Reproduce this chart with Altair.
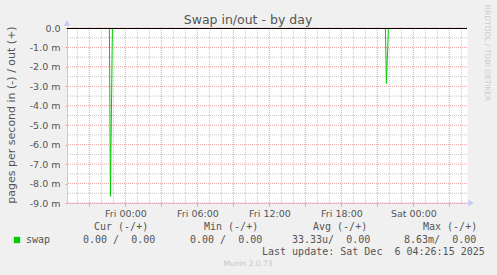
import altair as alt
import pandas as pd
from datetime import datetime, timedelta

# ---------------- data ----------------
times = ["2025-12-04T19:10:00", "2025-12-04T22:40:00", "2025-12-04T22:45:00",
         "2025-12-04T22:55:00", "2025-12-05T21:40:00", "2025-12-05T21:45:00",
         "2025-12-05T21:55:00", "2025-12-06T04:25:00"]
swap_in_m = [0.0, 0.0, 8.63, 0.0, 0.0, 2.83, 0.0, 0.0]   # milli pages/s (drawn negative)
swap_out_m = [0.0, 0.0, 0.0, 0.0, 0.0, 0.0, 0.0, 0.0]    # milli pages/s

title_text = "Swap in/out - by day"
y_title = "pages per second in (-) / out (+)"
series_name = "swap"
legend_headers = ["Cur (-/+)", "Min (-/+)", "Avg (-/+)", "Max (-/+)"]
legend_values = ["0.00 /  0.00", "0.00 /  0.00", "33.33u/  0.00", "8.63m/  0.00"]
last_update = "Last update: Sat Dec  6 04:26:15 2025"
footer = "Munin 2.0.73"
side_text = "RRDTOOL / TOBI OETIKER"
y_major = [-9.0 + i for i in range(10)]
y_minor = [-8.5 + i for i in range(9)]

# ---------------- layout ----------------
PL, PT, W, H = 67, 28, 400, 175
GREEN = "#00cc00"
TXT = "#555555"
AXC = "#c8c8f0"
GRID_RED = "#eaa0a0"
GRID_GREY = "#c8c8c8"
nb = "\u00a0"

rows = []
for t, vi, vo in zip(times, swap_in_m, swap_out_m):
    rows.append({"time": t, "value": -vi, "series": "in"})
    rows.append({"time": t, "value": vo, "series": "out"})
df = pd.DataFrame(rows)

start = datetime(2025, 12, 4, 20, 0)
hours_all = [start + timedelta(hours=i) for i in range(33)]
x_major_str = [d.strftime("%Y-%m-%dT%H:%M:%S") for d in hours_all if d.hour % 3 == 0]
x_minor_str = [d.strftime("%Y-%m-%dT%H:%M:%S") for d in hours_all if d.hour % 3 != 0]
x_tick_vals = [alt.DateTime(year=d.year, month=d.month, date=d.day, hours=d.hour)
               for d in hours_all if d.hour % 3 == 0]

x_domain = [alt.DateTime(year=2025, month=12, date=4, hours=19, minutes=8),
            alt.DateTime(year=2025, month=12, date=6, hours=4, minutes=28)]
x_scale = alt.Scale(domain=x_domain)
y_scale = alt.Scale(domain=[-9, 0], nice=False)

x_axis = alt.Axis(
    values=x_tick_vals, title=None, grid=False,
    tickColor=GRID_RED, tickSize=3, labelPadding=2,
    labelExpr="hours(datum.value) % 6 == 0 ? timeFormat(datum.value, '%a %H:%M') : ''",
    labelOverlap=False, labelFlush=False, labelFont="DejaVu Sans", labelFontSize=9.5,
    labelColor=TXT, domainColor=AXC,
)
y_axis = alt.Axis(
    values=y_major, title=None, grid=False,
    tickColor=GRID_RED, tickSize=2, labelPadding=5,
    labelExpr=("datum.value == 0 ? '0.0" + nb + nb + "' : "
               "(datum.value < 0 ? '-' : '') + format(abs(datum.value), '.1f') + '" + nb + "m'"),
    labelOverlap=False, labelFlush=False, labelFont="DejaVu Sans", labelFontSize=9.5,
    labelColor=TXT, domainColor=AXC,
)


def X(field):
    return alt.X(field, scale=x_scale, axis=x_axis)


def Y(field):
    return alt.Y(field, scale=y_scale, axis=y_axis)


def vgrid(vals, color):
    return alt.Chart(pd.DataFrame({"g": vals})).mark_rule(
        color=color, strokeWidth=1, strokeDash=[1, 1]).encode(x=X("g:T"))


def hgrid(vals, color):
    return alt.Chart(pd.DataFrame({"g": vals})).mark_rule(
        color=color, strokeWidth=1, strokeDash=[1, 1]).encode(y=Y("g:Q"))


lines = alt.Chart(df).mark_line(color=GREEN, strokeWidth=1, yOffset=0.5).encode(
    x=X("time:T"), y=Y("value:Q"), detail="series:N",
)

zero = alt.Chart(pd.DataFrame({"z": [0.0]})).mark_rule(
    color="black", strokeWidth=1, yOffset=0.5).encode(y=Y("z:Q"))


def txt(s, x, y, size=10, font="DejaVu Sans", color=TXT, align="left", baseline="middle", angle=0):
    return alt.Chart(pd.DataFrame({"t": [s.replace(" ", nb)]})).mark_text(
        font=font, fontSize=size, color=color, align=align, baseline=baseline, angle=angle
    ).encode(x=alt.value(x - PL), y=alt.value(y - PT), text="t:N")


layers = [vgrid(x_minor_str, GRID_GREY), hgrid(y_minor, GRID_GREY),
          vgrid(x_major_str, GRID_RED), hgrid(y_major, GRID_RED), lines, zero]
layers.append(txt(title_text, 248, 20, size=12.5, align="center"))
layers.append(txt(y_title, 12, 115, size=11, align="center", angle=270))
layers.append(txt(side_text, 487, 53, size=7.5, color="#cccccc", align="center", angle=90))
hx = [94, 204, 313, 423]
vx = [83, 190, 292, 404]
for h, x in zip(legend_headers, hx):
    layers.append(txt(h, x, 227, font="DejaVu Sans Mono"))
for v, x in zip(legend_values, vx):
    layers.append(txt(v, x, 240, font="DejaVu Sans Mono"))
layers.append(txt(series_name, 26, 240, font="DejaVu Sans Mono"))
layers.append(txt(last_update, 262, 252, font="DejaVu Sans Mono"))
layers.append(txt(footer, 248, 264, size=7.5, color="#c8c8c8", align="center"))

square = alt.Chart(pd.DataFrame({"s": [series_name]})).mark_square(
    color=GREEN, size=40, opacity=1, filled=True
).encode(x=alt.value(17 - PL), y=alt.value(240 - PT))
arrow_up = alt.Chart(pd.DataFrame({"s": ["y"]})).mark_point(
    shape="triangle-up", color=AXC, size=40, filled=True, opacity=1
).encode(x=alt.value(0), y=alt.value(-5))
arrow_right = alt.Chart(pd.DataFrame({"s": ["x"]})).mark_point(
    shape="triangle-right", color=AXC, size=40, filled=True, opacity=1
).encode(x=alt.value(W + 4), y=alt.value(H))
layers += [square, arrow_up, arrow_right]

chart = alt.layer(*layers).properties(
    width=W, height=H,
    autosize=alt.AutoSizeParams(type="none"),
    padding={"left": PL, "top": PT, "right": 497 - PL - W, "bottom": 275 - PT - H},
    background="#f0f0f0",
).configure_view(fill="white", stroke="transparent")

chart.save("out.html", embed_options={"renderer": "svg", "actions": False})
